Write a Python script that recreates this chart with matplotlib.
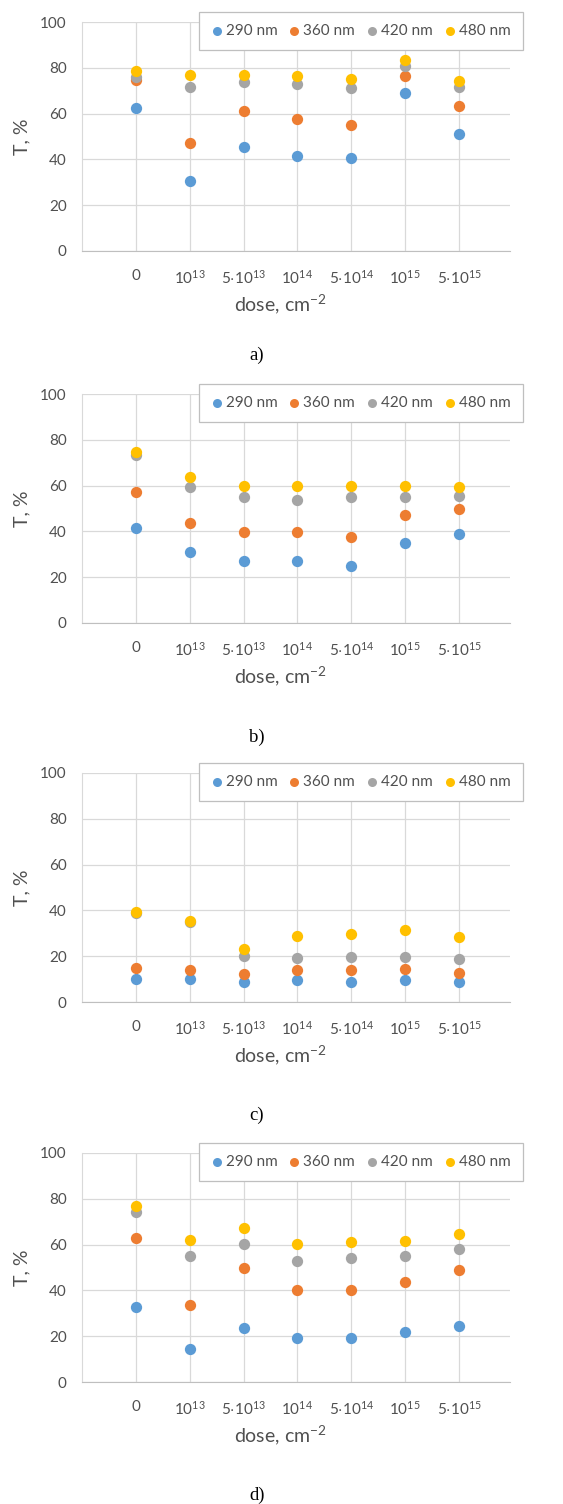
import matplotlib
matplotlib.use("Agg")
import matplotlib.pyplot as plt
import numpy as np

plt.rcParams['font.family'] = ['Lato', 'DejaVu Sans']
plt.rcParams['mathtext.default'] = 'regular'

doses = ['0', r'$10^{13}$', r'$5{\cdot}10^{13}$', r'$10^{14}$', r'$5{\cdot}10^{14}$', r'$10^{15}$', r'$5{\cdot}10^{15}$']
series_names = ['290 nm', '360 nm', '420 nm', '480 nm']
colors = ['#5B9BD5', '#ED7D31', '#A5A5A5', '#FFC000']

a_290 = [62.4, 30.7, 45.6, 41.7, 40.8, 69.2, 51.0]
a_360 = [74.6, 47.1, 61.3, 57.7, 55.0, 76.6, 63.2]
a_420 = [76.0, 71.6, 73.8, 73.1, 71.2, 81.0, 71.6]
a_480 = [78.8, 76.8, 77.0, 76.3, 74.9, 83.2, 74.1]

b_290 = [41.5, 30.9, 26.9, 26.9, 24.7, 34.9, 39.0]
b_360 = [57.1, 43.7, 39.6, 39.6, 37.6, 47.2, 49.6]
b_420 = [73.5, 59.4, 55.2, 53.7, 55.2, 54.9, 55.6]
b_480 = [74.8, 63.8, 59.7, 59.7, 59.7, 59.7, 59.2]

c_290 = [10.2, 10.2, 8.7, 9.6, 8.7, 9.6, 8.7]
c_360 = [15.0, 13.8, 12.1, 13.8, 13.8, 14.5, 12.8]
c_420 = [39.0, 35.0, 20.3, 19.0, 19.8, 19.8, 18.6]
c_480 = [39.2, 35.3, 23.0, 28.9, 29.5, 31.5, 28.3]

d_290 = [32.9, 14.2, 23.7, 19.1, 19.1, 21.7, 24.3]
d_360 = [63.0, 33.7, 49.7, 40.3, 40.3, 43.6, 49.0]
d_420 = [74.3, 54.9, 60.4, 53.0, 54.2, 54.9, 58.2]
d_480 = [77.0, 62.1, 67.1, 60.4, 61.0, 61.4, 64.6]

panels = [
    ('a)', [a_290, a_360, a_420, a_480]),
    ('b)', [b_290, b_360, b_420, b_480]),
    ('c)', [c_290, c_360, c_420, c_480]),
    ('d)', [d_290, d_360, d_420, d_480]),
]

W, H = 563, 1504
fig = plt.figure(figsize=(W / 100, H / 100), dpi=100)
fig.patch.set_facecolor('white')

ax_tops = [22, 394, 773, 1153]
ax_h = 229
ax_left, ax_right = 82, 510
caption_y = [355, 737, 1115, 1495]

x = np.arange(len(doses))
grid_c = '#D9D9D9'
txt_c = '#505050'

for (cap, data), top, cy in zip(panels, ax_tops, caption_y):
    ax = fig.add_axes([ax_left / W, 1 - (top + ax_h) / H, (ax_right - ax_left) / W, ax_h / H])
    for vals, name, col in zip(data, series_names, colors):
        ax.scatter(x, vals, s=66, color=col, label=name, zorder=3, linewidths=0)
    ax.set_xlim(-1, 6.95)
    ax.set_ylim(0, 100)
    ax.set_yticks(np.arange(0, 101, 20))
    ax.set_xticks(x)
    ax.set_xticklabels(doses)
    ax.grid(True, color=grid_c, linewidth=0.9, zorder=0)
    ax.set_axisbelow(True)
    for s in ['top', 'right']:
        ax.spines[s].set_visible(False)
    ax.spines['left'].set_color(grid_c)
    ax.spines['bottom'].set_color('#BFBFBF')
    ax.tick_params(axis='both', length=0, labelsize=11, colors=txt_c)
    ax.tick_params(axis='x', pad=13)
    ax.tick_params(axis='y', pad=11)
    ax.set_ylabel('T, %', fontsize=14, color=txt_c)
    ax.yaxis.set_label_coords(-0.12, 0.5)
    ax.set_xlabel(r'dose, cm$^{-2}$', fontsize=14, color=txt_c)
    ax.xaxis.set_label_coords(0.463, -0.18)
    leg = ax.legend(loc='upper left', bbox_to_anchor=((199 - ax_left) / (ax_right - ax_left), 1 + 10 / ax_h),
                    ncol=4, fontsize=11, frameon=True, fancybox=False, framealpha=1,
                    edgecolor='#BFBFBF', handlelength=0.7, handletextpad=0.25, columnspacing=0.75,
                    borderpad=0.8, markerscale=0.8, borderaxespad=0)
    leg.get_frame().set_linewidth(0.9)
    for t in leg.get_texts():
        t.set_color(txt_c)
    fig.text(257 / W, 1 - cy / H, cap, ha='center', va='center',
             family='Liberation Serif', fontsize=13.5)

fig.savefig('out.png', dpi=100, facecolor='white')
